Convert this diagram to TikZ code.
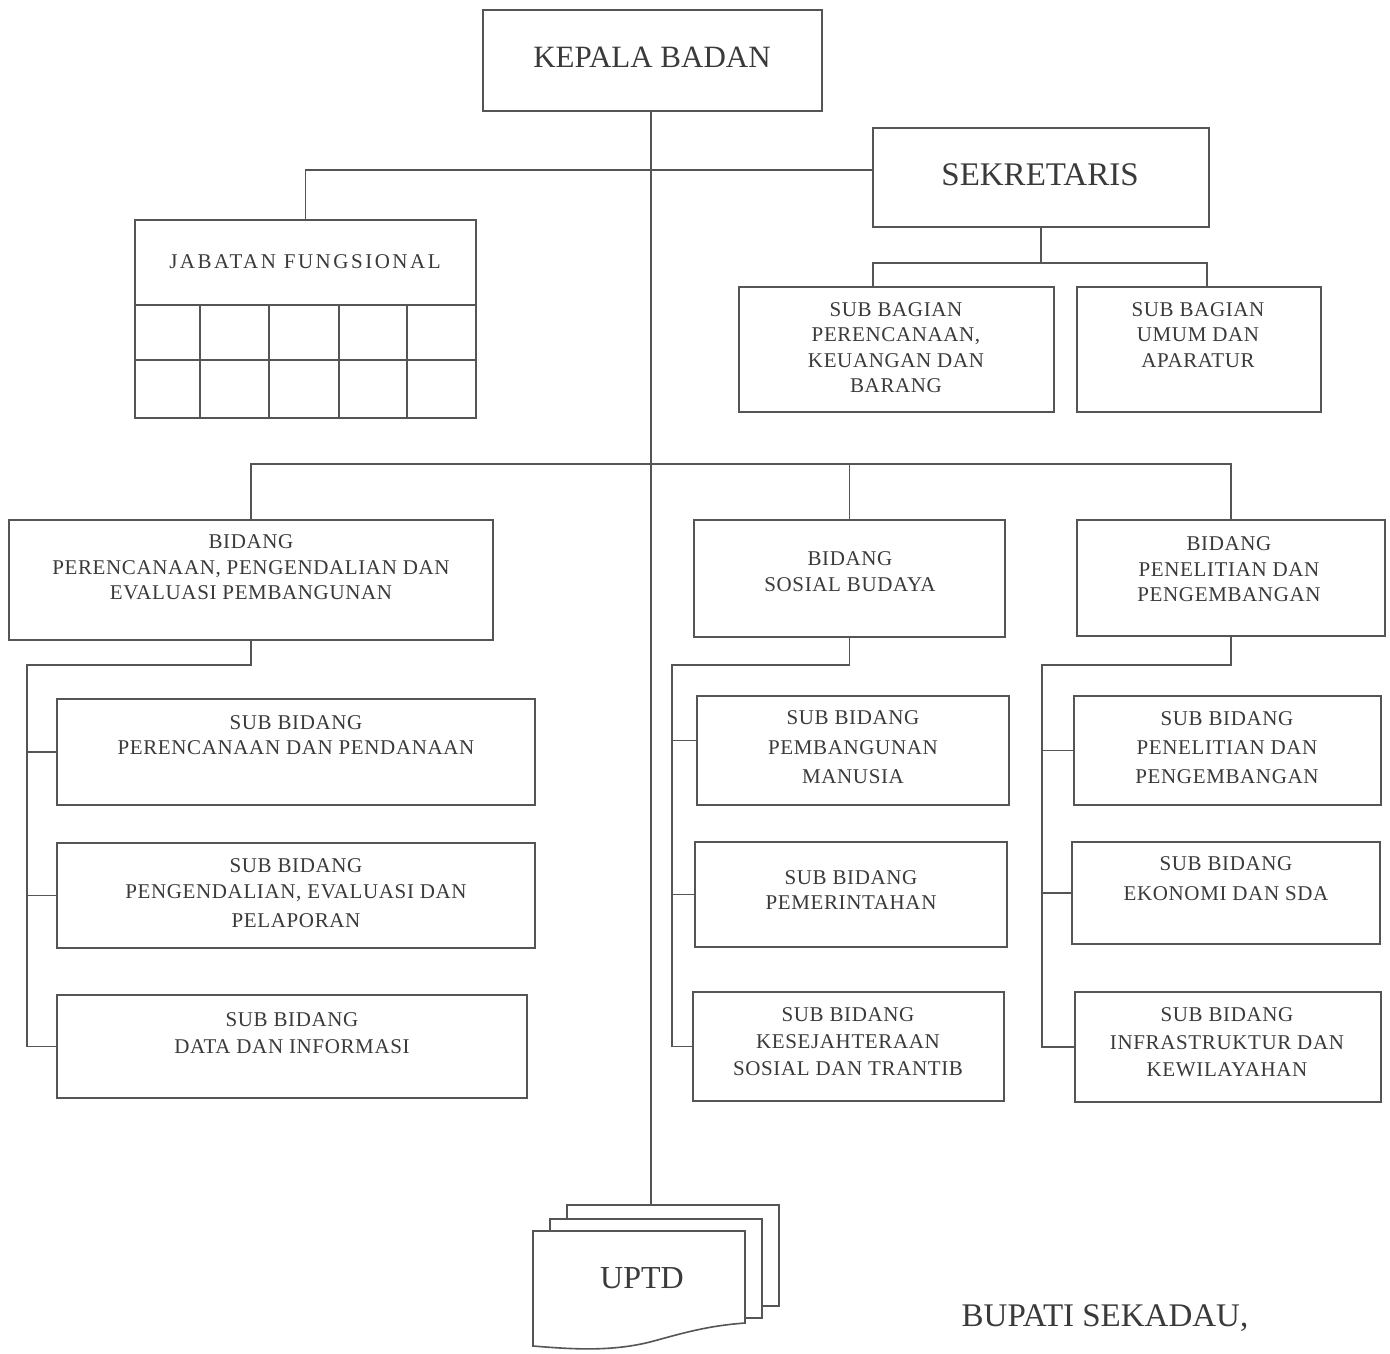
\documentclass[tikz,border=0pt]{standalone}
\usepackage{fontspec}
\setmainfont{Liberation Serif}
\newfontfamily\lblfont[LetterSpace=3.0]{Liberation Serif}
\newfontfamily\widefont[LetterSpace=12.0]{Liberation Serif}
\definecolor{ln}{HTML}{555555}
\definecolor{tx}{HTML}{3A3A3A}
\begin{document}
\begin{tikzpicture}[x=1pt,y=-1pt,
  box/.style={draw=ln,line width=1.6pt,rectangle,inner sep=0pt,fill=white},
  lbl/.style={text=tx,align=center,inner sep=0pt,font=\lblfont\fontsize{21}{25.5}\selectfont},
  big/.style={text=tx,inner sep=0pt},
  con/.style={draw=ln,line width=1.6pt,line cap=rect}]
\fill[white] (0,0) rectangle (1390,1354);
\useasboundingbox (0,0) rectangle (1390,1354);

% coordinates for junctions
\coordinate (UP) at (651,1205);
\coordinate (J) at (306,170);
\coordinate (SA) at (873,263);
\coordinate (SB) at (1207,263);
\coordinate (H) at (651,464);
\coordinate (L) at (27,665);
\coordinate (M) at (672,665);
\coordinate (R) at (1042,665);

% main line and connectors (drawn first, boxes on top)
\draw[con] (651,111) -- (UP);

% boxes
\node[box,minimum width=339,minimum height=101] (kb) at (652.5,60.5) {};
\node[big,font=\fontsize{31}{36}\selectfont] (kbt) at (652,57) {KEPALA BADAN};

\node[box,minimum width=336,minimum height=99] (sek) at (1041,177.5) {};
\node[big,font=\fontsize{33}{38}\selectfont] (sekt) at (1040,175) {SEKRETARIS};

\node[box,minimum width=341,minimum height=198] (jab) at (305.5,319) {};
\node[text=tx,inner sep=0pt,font=\widefont\fontsize{21}{25}\selectfont] (jabt) at (305,262) {JABATAN FUNGSIONAL};
\draw[con] (135,305) -- (476,305);
\draw[con] (135,360) -- (476,360);
\foreach \xx in {200,269,339,407} \draw[con] (\xx,305) -- (\xx,418);

\node[box,minimum width=315,minimum height=125] (sbp) at (896.5,349.5) {};
\node[lbl] (sbpt) at (896,347.5) {SUB BAGIAN\\PERENCANAAN,\\KEUANGAN DAN\\BARANG};
\node[box,minimum width=244,minimum height=125] (sbu) at (1199,349.5) {};
\node[lbl] (sbut) at (1198,335) {SUB BAGIAN\\UMUM DAN\\APARATUR};

\node[box,minimum width=484,minimum height=120] (bid1) at (251,580) {};
\node[lbl] (bid1t) at (251,567.5) {BIDANG\\PERENCANAAN, PENGENDALIAN DAN\\EVALUASI PEMBANGUNAN};
\node[box,minimum width=311,minimum height=117] (bid2) at (849.5,578.5) {};
\node[lbl] (bid2t) at (850,571.5) {BIDANG\\SOSIAL BUDAYA};
\node[box,minimum width=308,minimum height=116] (bid3) at (1231,578) {};
\node[lbl] (bid3t) at (1229,569.5) {BIDANG\\PENELITIAN DAN\\PENGEMBANGAN};

\node[box,minimum width=478,minimum height=106] (s11) at (296,752) {};
\node[lbl] (s11t) at (296,735) {SUB BIDANG\\PERENCANAAN DAN PENDANAAN};
\node[box,minimum width=478,minimum height=105] (s12) at (296,895.5) {};
\node[lbl] (s12t) at (296,893.5) {SUB BIDANG\\PENGENDALIAN, EVALUASI DAN\\[4pt]PELAPORAN};
\node[box,minimum width=470,minimum height=103] (s13) at (292,1046.5) {};
\node[lbl] (s13t) at (292,1033.5) {SUB BIDANG\\[1.5pt]DATA DAN INFORMASI};

\node[box,minimum width=312,minimum height=109] (s21) at (853,750.5) {};
\node[lbl] (s21t) at (853,747.5) {SUB BIDANG\\[4pt]PEMBANGUNAN\\[4pt]MANUSIA};
\node[box,minimum width=312,minimum height=105] (s22) at (851,894.5) {};
\node[lbl] (s22t) at (851,890) {SUB BIDANG\\PEMERINTAHAN};
\node[box,minimum width=311,minimum height=109] (s23) at (848.5,1046.5) {};
\node[lbl] (s23t) at (848,1042) {SUB BIDANG\\[1.5pt]KESEJAHTERAAN\\[1.5pt]SOSIAL DAN TRANTIB};

\node[box,minimum width=307,minimum height=109] (s31) at (1227.5,750.5) {};
\node[lbl] (s31t) at (1227,748) {SUB BIDANG\\[3.5pt]PENELITIAN DAN\\[3.5pt]PENGEMBANGAN};
\node[box,minimum width=308,minimum height=102] (s32) at (1226,893) {};
\node[lbl] (s32t) at (1226,879) {SUB BIDANG\\[4.5pt]EKONOMI DAN SDA};
\node[box,minimum width=306,minimum height=110] (s33) at (1228,1047) {};
\node[lbl] (s33t) at (1227,1042.5) {SUB BIDANG\\[2pt]INFRASTRUKTUR DAN\\[2pt]KEWILAYAHAN};

% connectors
\draw[con] (jab.north) -- (jab.north |- J) -- (J -| sek.west);
\draw[con] (sek.south) -- (sek.south |- SA);
\draw[con] (SA) -- (SB);
\draw[con] (SA) -- (SA |- sbp.north);
\draw[con] (SB) -- (SB |- sbu.north);

\draw[con] (bid1.north) -- (bid1.north |- H) -- (bid3.north |- H) -- (bid3.north);
\draw[con] (bid2.north) -- (bid2.north |- H);

\draw[con] (bid1.south) -- (bid1.south |- L) -- (L) -- (L |- s13.west) -- (s13.west);
\draw[con] (L |- s11.west) -- (s11.west);
\draw[con] (L |- s12.west) -- (s12.west);

\coordinate (s21w) at ([yshift=10pt]s21.west);
\draw[con] (bid2.south) -- (bid2.south |- M) -- (M) -- (M |- s23.west) -- (s23.west);
\draw[con] (M |- s21w) -- (s21w);
\draw[con] (M |- s22.west) -- (s22.west);

\draw[con] (bid3.south) -- (bid3.south |- R) -- (R) -- (R |- s33.west) -- (s33.west);
\draw[con] (R |- s31.west) -- (s31.west);
\draw[con] (R |- s32.west) -- (s32.west);

% UPTD stacked documents
\filldraw[con,fill=white,line cap=butt] (762,1306) -- (779,1306) -- (779,1205) -- (567,1205) -- (567,1219);
\filldraw[con,fill=white,line cap=butt] (745,1318) -- (762,1318) -- (762,1219) -- (550,1219) -- (550,1231);
\filldraw[con,fill=white,line join=miter] (533,1231) -- (745,1231) -- (745,1323)
  .. controls (705,1326) and (680,1334) .. (650,1342)
  .. controls (610,1352) and (570,1349) .. (533,1346) -- cycle;
\node[big,font=\fontsize{32}{36}\selectfont] (uptd) at (642,1278) {UPTD};

\node[big,font=\fontsize{33}{38}\selectfont] (bup) at (1105,1318) {BUPATI SEKADAU,};
\end{tikzpicture}
\end{document}
